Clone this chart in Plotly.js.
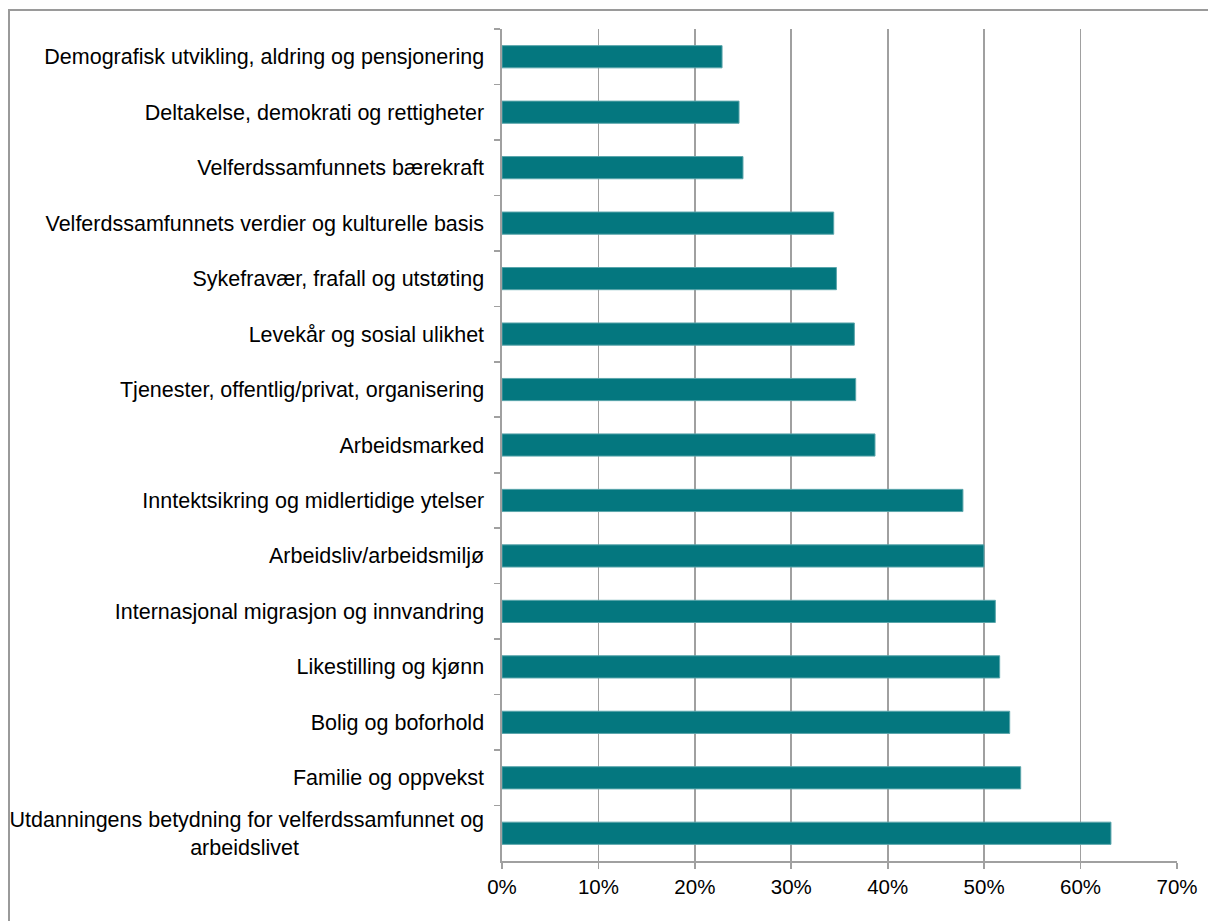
<!DOCTYPE html>
<html>
<head>
<meta charset="utf-8">
<script src="https://cdn.plot.ly/plotly-3.0.1.min.js"></script>
<style>
  html, body { margin: 0; padding: 0; background: #fff; }
  #chart { width: 1208px; height: 921px; }
</style>
</head>
<body>
<div id="chart"></div>
<script>
const categories = [
  "Demografisk utvikling, aldring og pensjonering",
  "Deltakelse, demokrati og rettigheter",
  "Velferdssamfunnets bærekraft",
  "Velferdssamfunnets verdier og kulturelle basis",
  "Sykefravær, frafall og utstøting",
  "Levekår og sosial ulikhet",
  "Tjenester, offentlig/privat, organisering",
  "Arbeidsmarked",
  "Inntektsikring og midlertidige ytelser",
  "Arbeidsliv/arbeidsmiljø",
  "Internasjonal migrasjon og innvandring",
  "Likestilling og kjønn",
  "Bolig og boforhold",
  "Familie og oppvekst",
  "Utdanningens betydning for velferdssamfunnet og<br>arbeidslivet" + "\u00a0".repeat(31)
];
const values = [
  0.2282, 0.2458, 0.2499, 0.3440, 0.3468, 0.3654, 0.3668, 0.3868,
  0.4780, 0.4998, 0.5116, 0.5161, 0.5265, 0.5379, 0.6315
];
const xTickVals = [0, 0.1, 0.2, 0.3, 0.4, 0.5, 0.6, 0.7];
const xTickText = ["0%", "10%", "20%", "30%", "40%", "50%", "60%", "70%"];

const W = 1208, H = 921;
const L = 502, R = 31, T = 29, B = 60;
const pw = W - L - R, ph = H - T - B;
function px(x) { return (x - L) / pw; }
function py(y) { return (H - B - y) / ph; }

const trace = {
  type: "bar",
  orientation: "h",
  y: categories,
  x: values,
  marker: { color: "#04777f", line: { color: "#5aa5ab", width: 1 } },
  hoverinfo: "x+y"
};

const layout = {
  width: W, height: H,
  margin: { l: L, r: R, t: T, b: B, pad: 0 },
  paper_bgcolor: "#ffffff",
  plot_bgcolor: "#ffffff",
  font: { family: "Liberation Sans, Arial, sans-serif", size: 21, color: "#000" },
  showlegend: false,
  bargap: 0.6,
  xaxis: {
    range: [0, 0.7],
    tickvals: xTickVals,
    ticktext: xTickText,
    showgrid: true,
    gridcolor: "#a0a0a0",
    gridwidth: 1.6,
    zeroline: false,
    showline: true,
    linecolor: "#a0a0a0",
    linewidth: 1.6,
    ticks: "outside",
    ticklen: 6,
    tickcolor: "#a0a0a0",
    tickwidth: 1.6,
    ticklabelstandoff: 1,
    tickfont: { size: 20.5, color: "#000" },
    fixedrange: true
  },
  yaxis: {
    type: "category",
    autorange: "reversed",
    tickson: "boundaries",
    showgrid: false,
    zeroline: false,
    showline: true,
    linecolor: "#a0a0a0",
    linewidth: 1.6,
    ticks: "outside",
    ticklen: 6,
    tickcolor: "#a0a0a0",
    tickwidth: 1.6,
    ticklabelstandoff: 12,
    tickfont: { size: 21.5, color: "#000" },
    fixedrange: true
  },
  shapes: [
    {
      type: "rect", xref: "paper", yref: "paper", layer: "above",
      x0: px(9), x1: px(1240), y0: py(960), y1: py(10),
      line: { color: "#9a9a9a", width: 2 }, fillcolor: "rgba(0,0,0,0)"
    }
  ]
};

Plotly.newPlot("chart", [trace], layout, { displayModeBar: false, staticPlot: true });
</script>
</body>
</html>
